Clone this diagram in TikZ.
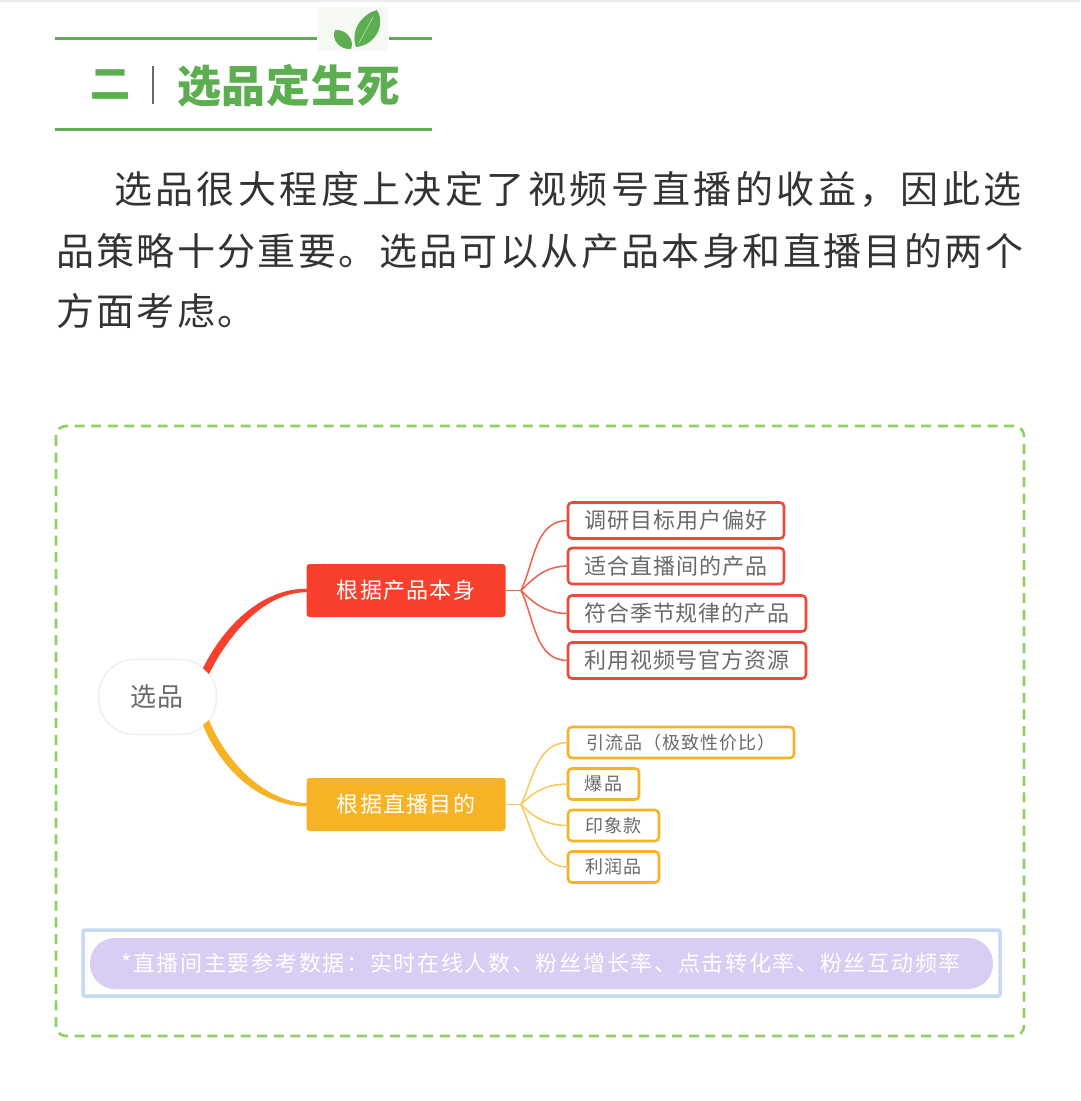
\documentclass[tikz,border=0pt]{standalone}
\usepackage{fontspec}
\setmainfont{Noto Sans CJK SC}
\definecolor{leafgreen}{HTML}{5DAE50}
\definecolor{framegreen}{HTML}{8FD163}
\definecolor{iconback}{HTML}{F5F8F3}
\definecolor{bodygrey}{HTML}{333333}
\definecolor{labelgrey}{HTML}{6A6A6A}
\definecolor{redbranch}{HTML}{F8402D}
\definecolor{redframe}{HTML}{EE4A3B}
\definecolor{redline}{HTML}{F0604F}
\definecolor{orangebranch}{HTML}{F6B325}
\definecolor{orangeline}{HTML}{F8C95A}
\definecolor{noteblue}{HTML}{C6DBF3}
\definecolor{notepurple}{HTML}{D8CDF2}
\newcommand{\sized}[2]{\fontsize{#1}{#1}\selectfont\addfontfeature{LetterSpace=#2}}
\begin{document}
\begin{tikzpicture}
[x=1pt, y=-1pt,
% STYLES
every node/.style={inner sep=0pt, outer sep=0pt},
% The bodyline style is used to set the paragraph lines
bodyline/.style={anchor=west, text=bodygrey, font=\sized{38}{6.3}},
% The root style is used to draw the centre of the map
root/.style={rectangle, draw=black!6, line width=1.6pt, fill=white, rounded corners=36pt, minimum width=118pt, minimum height=75pt, text=labelgrey, font=\sized{26}{4}},
% The branch style is used to draw the two main topics
branch/.style={rectangle, rounded corners=3pt, minimum width=199pt, minimum height=53pt, text=white, font=\sized{22}{6}},
% The leaf styles are used to draw the outer topics
redleaf/.style={rectangle, draw=redframe, line width=2.6pt, fill=white, rounded corners=4pt, anchor=west, minimum height=36pt, text=labelgrey, font=\sized{22}{4}},
orangeleaf/.style={rectangle, draw=orangebranch, line width=2.6pt, fill=white, rounded corners=4pt, anchor=west, minimum height=31pt, text=labelgrey, font=\sized{18}{6}},
redlink/.style={draw=redline, line width=1.5pt},
orangelink/.style={draw=orangeline, line width=1.5pt}]

\useasboundingbox (0,0) rectangle (1080,1101);
\draw [black!8, line width=1.5pt] (0,1) -- (1080,1);

% Draw heading
\coordinate (ruleA) at (55,38);
\coordinate (ruleB) at (317,38);
\coordinate (ruleC) at (389,38);
\coordinate (ruleD) at (432,38);
\coordinate (ruleE) at (55,129);
\coordinate (ruleF) at (432,129);
\draw [leafgreen, line width=3pt] (ruleA) -- (ruleB) (ruleC) -- (ruleD) (ruleE) -- (ruleF);
\fill [iconback] (318,7) rectangle (388,51);
\fill [leafgreen] (377,10) .. controls (362,14) and (350,30) .. (356,47) .. controls (372,46) and (387,28) .. (377,10) -- cycle;
\fill [leafgreen] (335,30) .. controls (331,40) and (340,50) .. (351,49) .. controls (355,40) and (346,29) .. (335,30) -- cycle;
\draw [white!70!leafgreen, line width=.5pt] (359,43) -- (373,17);
\node [text=leafgreen, font=\bfseries\sized{40}{0}] (number) at (110,85) {二};
\coordinate (barA) at (153,66);
\coordinate (barB) at (153,104);
\draw [labelgrey, line width=1.3pt] (barA) -- (barB);
\node [anchor=west, text=leafgreen, font=\bfseries\sized{44}{2}] (title) at (177,86) {选品定生死};

% Draw paragraph
\node [bodyline, font=\sized{38}{9}] (lineA) at (114,189) {选品很大程度上决定了视频号直播的收益，因此选};
\node [bodyline] (lineB) at (56,251) {品策略十分重要。选品可以从产品本身和直播目的两个};
\node [bodyline] (lineC) at (56,311) {方面考虑。};

% Draw frame
\draw [framegreen, line width=2.6pt, rounded corners=10pt, dash pattern=on 10pt off 6.6pt] (56,426) rectangle (1024,1036);

% Draw topics
\node [root] (choice) at (157.5,697) {选品};
\node [branch, fill=redbranch] (product) at (406,590.5) {根据产品本身};
\node [branch, fill=orangebranch] (purpose) at (406,804.5) {根据直播目的};

\node [redleaf, minimum width=216pt] (survey) at (568,520.5) {调研目标用户偏好};
\node [redleaf, minimum width=216pt] (suited) at (568,566) {适合直播间的产品};
\node [redleaf, minimum width=238pt] (season) at (568,613.5) {符合季节规律的产品};
\node [redleaf, minimum width=238pt] (official) at (568,660.5) {利用视频号官方资源};

\node [orangeleaf, minimum width=226pt] (traffic) at (568,742.5) {引流品（极致性价比）};
\node [orangeleaf, minimum width=71pt] (hit) at (568,784) {爆品};
\node [orangeleaf, minimum width=91pt] (image) at (568,825.5) {印象款};
\node [orangeleaf, minimum width=91pt] (profit) at (568,867) {利润品};

% Draw connectors
\coordinate (redA) at (203,668);
\coordinate (redB) at (209,674);
\coordinate (redC) at (307,588.8);
\coordinate (redD) at (307,592.2);
\coordinate (orangeA) at (209,720);
\coordinate (orangeB) at (203,725);
\coordinate (orangeC) at (307,803);
\coordinate (orangeD) at (307,806.5);
\fill [redbranch] (redA) .. controls (226,622) and (265,588) .. (redC) -- (redD) .. controls (268,592) and (232,628) .. (redB) -- cycle;
\fill [orangebranch] (orangeA) .. controls (226,762) and (265,802) .. (orangeC) -- (orangeD) .. controls (262,806) and (222,772) .. (orangeB) -- cycle;

\coordinate (redhub) at (521,590.5);
\coordinate (orangehub) at (521,804.5);
\draw [redlink] (product.east) -- (redhub);
\draw [redlink] (redhub) to [out=65, in=180] (survey.west);
\draw [redlink] (redhub) to [out=45, in=180] (suited.west);
\draw [redlink] (redhub) to [out=-45, in=180] (season.west);
\draw [redlink] (redhub) to [out=-65, in=180] (official.west);
\draw [orangelink] (purpose.east) -- (orangehub);
\draw [orangelink] (orangehub) to [out=65, in=180] (traffic.west);
\draw [orangelink] (orangehub) to [out=45, in=180] (hit.west);
\draw [orangelink] (orangehub) to [out=-45, in=180] (image.west);
\draw [orangelink] (orangehub) to [out=-65, in=180] (profit.west);

% Draw note
\draw [noteblue, line width=3.5pt, rounded corners=2pt] (83,930) rectangle (1000,996);
\fill [notepurple, rounded corners=25pt] (90,938) rectangle (993,989);
\node [text=white, font=\sized{22}{7.7}] (note) at (541,963.5) {*直播间主要参考数据：实时在线人数、粉丝增长率、点击转化率、粉丝互动频率};
\end{tikzpicture}
\end{document}
